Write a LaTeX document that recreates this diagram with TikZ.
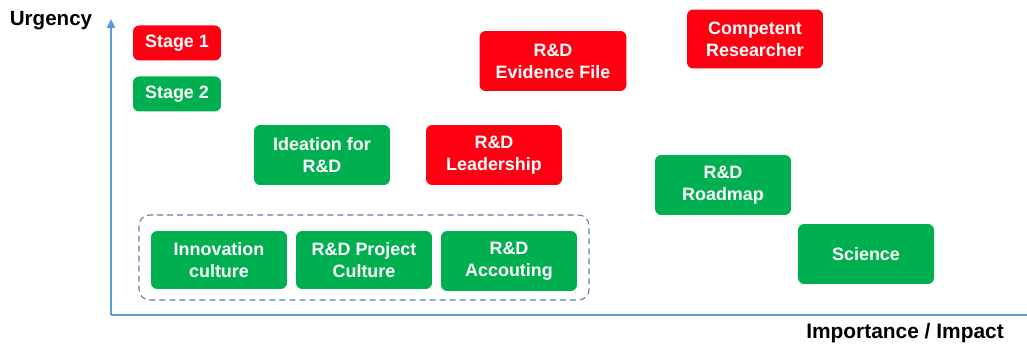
\documentclass[tikz,border=0pt]{standalone}
\usepackage{fontspec}
\setmainfont{Liberation Sans}
\usepackage{xcolor}
\usetikzlibrary{arrows.meta}
\definecolor{stagered}{HTML}{FF0012}
\definecolor{stagegreen}{HTML}{00B050}
\definecolor{axisblue}{HTML}{5B9BD5}
\definecolor{groupline}{HTML}{5A7DA6}

\begin{document}
\begin{tikzpicture}[x=0.02cm,y=-0.02cm,
    every node/.style={font=\bfseries\fontsize{10.2}{12.6}\selectfont},
    box/.style={rounded corners=3.5pt,text=white,align=center,inner sep=0pt,
      minimum width=2.72cm,minimum height=1.2cm},
    redbox/.style={box,fill=stagered},
    greenbox/.style={box,fill=stagegreen},
    axis/.style={axisblue,line width=1.1pt}]
   \useasboundingbox (0,0) rectangle (1027,347);
   % axes
   \coordinate (o) at (111,315);
   \coordinate (ytop) at (111,19);
   \coordinate (xend) at (1027,315);
   \draw[axis,-{Triangle[length=5pt,width=4.5pt]}] (o) -- (ytop);
   \draw[axis] (o) -- (xend);
   \node[font=\bfseries\fontsize{11.7}{14}\selectfont] (urgency) at (51,21) {Urgency};
   \node[font=\bfseries\fontsize{11.9}{14}\selectfont] (impact) at (905,333) {Importance / Impact};
   % legend
   \node[redbox,minimum width=1.76cm,minimum height=0.7cm] (stage1) at (177,43) {Stage 1};
   \node[greenbox,minimum width=1.76cm,minimum height=0.7cm] (stage2) at (177,94) {Stage 2};
   % topics
   \node[greenbox] (ideation) at (322,155) {Ideation for\\R\&D};
   \node[redbox] (leadership) at (494,155) {R\&D\\Leadership};
   \node[redbox,minimum width=2.94cm] (evidence) at (553,61) {R\&D\\Evidence File};
   \node[redbox,minimum height=1.18cm] (researcher) at (755,39) {Competent\\Researcher};
   \node[greenbox] (roadmap) at (723,185) {R\&D\\Roadmap};
   \node[greenbox] (science) at (866,254) {Science};
   % group at the bottom
   \node[greenbox,minimum height=1.16cm] (innovation) at (219,260) {Innovation\\culture};
   \node[greenbox,minimum height=1.16cm] (project) at (364,260) {R\&D Project\\Culture};
   \node[greenbox,minimum height=1.2cm] (accounting) at (509,261) {R\&D\\Accouting};
   \draw[groupline,dashed,dash pattern=on 3.4pt off 2.3pt,line width=0.6pt,rounded corners=6pt]
      (139,215) rectangle (589,300);
\end{tikzpicture}
\end{document}
